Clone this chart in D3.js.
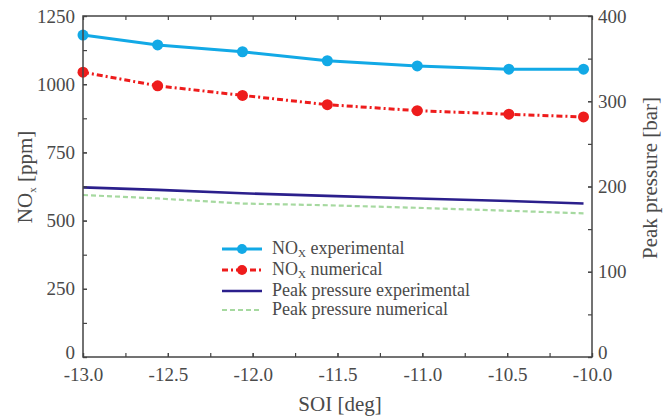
<!DOCTYPE html>
<html>
<head>
<meta charset="utf-8">
<script src="https://cdn.jsdelivr.net/npm/d3@7"></script>
<style>
  body { margin: 0; background: #fff; }
  svg text { font-family: "Liberation Serif", "Times New Roman", serif !important; }
</style>
</head>
<body>
<div id="chart"></div>
<script>
// SOI values (deg) and series
const soi = [-13.0, -12.56, -12.06, -11.56, -11.03, -10.49, -10.05];
const noxExp = [1180, 1144, 1119, 1086, 1067, 1055, 1055];
const noxNum = [1044, 994, 959, 925, 903, 890, 880];
const ppExp = [199, 196, 192, 189, 186, 183, 180];
const ppNum = [190, 186, 180, 178, 175, 171.5, 168.5];

const xTicks = [-13.0, -12.5, -12.0, -11.5, -11.0, -10.5, -10.0];
const yLeftTicks = [0, 250, 500, 750, 1000, 1250];
const yRightTicks = [0, 100, 200, 300, 400];

const width = 664, height = 416;
const margin = {left: 83, right: 72, top: 16, bottom: 59};

const svg = d3.select("#chart").append("svg")
  .attr("width", width)
  .attr("height", height);

const x = d3.scaleLinear().domain([-13, -10]).range([margin.left, width - margin.right]);
const yL = d3.scaleLinear().domain([0, 1250]).range([height - margin.bottom, margin.top]);
const yR = d3.scaleLinear().domain([0, 400]).range([height - margin.bottom, margin.top]);

const axisColor = "#444";
const textColor = "#4a4a4a";

// series lines
const lineL = d3.line().x((d, i) => x(soi[i])).y(d => yL(d));
const lineR = d3.line().x((d, i) => x(soi[i])).y(d => yR(d));

svg.append("path").datum(ppNum).attr("d", lineR)
  .attr("fill", "none").attr("stroke", "#a6d9a0").attr("stroke-width", 2.2)
  .attr("stroke-dasharray", "5,3");
svg.append("path").datum(ppExp).attr("d", lineR)
  .attr("fill", "none").attr("stroke", "#2b1f8c").attr("stroke-width", 2.6);
svg.append("path").datum(noxNum).attr("d", lineL)
  .attr("fill", "none").attr("stroke", "#ee1c1c").attr("stroke-width", 3)
  .attr("stroke-dasharray", "6,3,2,3");
svg.append("path").datum(noxExp).attr("d", lineL)
  .attr("fill", "none").attr("stroke", "#12a9e6").attr("stroke-width", 3);

svg.selectAll(".mExp").data(noxExp).enter().append("circle")
  .attr("cx", (d, i) => x(soi[i])).attr("cy", d => yL(d)).attr("r", 5.5)
  .attr("fill", "#12a9e6");
svg.selectAll(".mNum").data(noxNum).enter().append("circle")
  .attr("cx", (d, i) => x(soi[i])).attr("cy", d => yL(d)).attr("r", 5.5)
  .attr("fill", "#ee1c1c");

// axes (ticks pointing inward)
function styleAxis(g) {
  g.select(".domain").remove();
  g.selectAll(".tick line").attr("stroke", axisColor).attr("stroke-width", 1.2);
  g.selectAll(".tick text").attr("fill", textColor).style("font-size", "19px");
}
// lift the "0" labels a little so they clear the x tick labels
function liftZero(g) {
  g.selectAll(".tick text").filter(d => d === 0).attr("dy", "0.1em");
}

const plotBottom = height - margin.bottom, plotTop = margin.top;
const plotLeft = margin.left, plotRight = width - margin.right;

const fmtX = d => d.toFixed(1);
const fmtY = d => String(d);

const minorX = d3.range(-13, -9.99, 0.25);
svg.append("g").attr("transform", `translate(0,${plotBottom})`)
  .call(d3.axisBottom(x).tickValues(minorX).tickSize(-4).tickFormat(""))
  .call(styleAxis);
svg.append("g").attr("transform", `translate(0,${plotBottom})`)
  .call(d3.axisBottom(x).tickValues(xTicks).tickSize(-4).tickPadding(11).tickFormat(fmtX))
  .call(styleAxis);
svg.append("g").attr("transform", `translate(0,${plotTop})`)
  .call(d3.axisTop(x).tickValues(minorX).tickSize(-4).tickFormat(""))
  .call(styleAxis);

svg.append("g").attr("transform", `translate(${plotLeft},0)`)
  .call(d3.axisLeft(yL).tickValues(d3.range(0, 1251, 125)).tickSize(-4).tickFormat(""))
  .call(styleAxis);
svg.append("g").attr("transform", `translate(${plotLeft},0)`)
  .call(d3.axisLeft(yL).tickValues(yLeftTicks).tickSize(-4).tickPadding(8).tickFormat(fmtY))
  .call(styleAxis).call(liftZero);

svg.append("g").attr("transform", `translate(${plotRight},0)`)
  .call(d3.axisRight(yR).tickValues(d3.range(0, 401, 50)).tickSize(-4).tickFormat(""))
  .call(styleAxis);
svg.append("g").attr("transform", `translate(${plotRight},0)`)
  .call(d3.axisRight(yR).tickValues(yRightTicks).tickSize(-4).tickPadding(6).tickFormat(fmtY))
  .call(styleAxis).call(liftZero);

// frame
svg.append("rect")
  .attr("x", plotLeft).attr("y", plotTop)
  .attr("width", plotRight - plotLeft).attr("height", plotBottom - plotTop)
  .attr("fill", "none").attr("stroke", axisColor).attr("stroke-width", 1.5);

// axis titles
svg.append("text")
  .attr("x", 340).attr("y", 411)
  .attr("text-anchor", "middle").attr("fill", textColor)
  .style("font-size", "21px").text("SOI [deg]");

const yt = svg.append("text")
  .attr("transform", "translate(32,177) rotate(-90)")
  .attr("text-anchor", "middle").attr("fill", textColor)
  .style("font-size", "21px");
yt.append("tspan").text("NO");
yt.append("tspan").text("x").attr("font-size", "11px").attr("dy", 4);
yt.append("tspan").text(" [ppm]").attr("dy", -4);

svg.append("text")
  .attr("transform", "translate(657,178) rotate(-90)")
  .attr("text-anchor", "middle").attr("fill", textColor)
  .style("font-size", "21px").text("Peak pressure [bar]");

// legend
const legendItems = [
  {name: "experimental", nox: true, color: "#12a9e6", dash: null, w: 3, marker: true},
  {name: "numerical", nox: true, color: "#ee1c1c", dash: "6,3,2,3", w: 3, marker: true},
  {name: "Peak pressure experimental", nox: false, color: "#2b1f8c", dash: null, w: 2.6, marker: false},
  {name: "Peak pressure numerical", nox: false, color: "#a6d9a0", dash: "5,3", w: 2.2, marker: false}
];
const legendY = [249, 270, 291, 310];
const lg = svg.append("g");
legendItems.forEach((d, i) => {
  const yy = legendY[i];
  lg.append("line").attr("x1", 222).attr("x2", 262).attr("y1", yy).attr("y2", yy)
    .attr("stroke", d.color).attr("stroke-width", d.w)
    .attr("stroke-dasharray", d.dash);
  if (d.marker) {
    lg.append("circle").attr("cx", 242).attr("cy", yy).attr("r", 5).attr("fill", d.color);
  }
  const t = lg.append("text").attr("x", 272).attr("y", yy + 5)
    .attr("fill", textColor).style("font-size", "18px");
  if (d.nox) {
    t.append("tspan").text("NO");
    t.append("tspan").text("X").attr("font-size", "11px").attr("dy", 3);
    t.append("tspan").text(" " + d.name).attr("dy", -3);
  } else {
    t.text(d.name);
  }
});
</script>
</body>
</html>
